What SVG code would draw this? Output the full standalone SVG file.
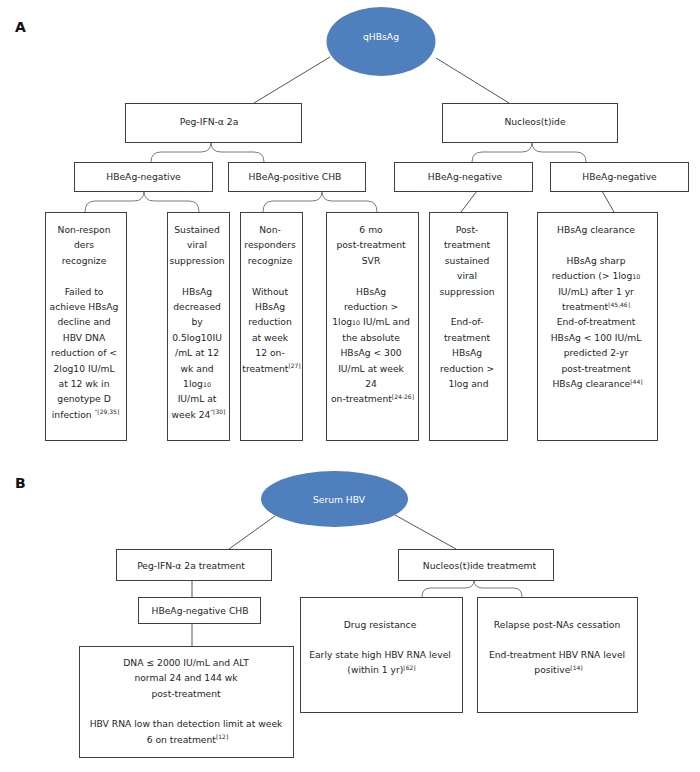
<svg xmlns="http://www.w3.org/2000/svg" width="700" height="772" viewBox="0 0 700 772">
<style>
.bg{fill:#fff}
.box{fill:#fff;stroke:#404040;stroke-width:1}
.ell{fill:#4f7fbd;stroke:none}
.t{font-family:"DejaVu Sans",Verdana,sans-serif;font-size:9.2px;fill:#262626;text-anchor:middle}
.w{fill:#fff}
.lab{font-family:"DejaVu Sans",Verdana,sans-serif;font-size:14px;font-weight:bold;fill:#111}
.sup{font-size:6px}
.sub{font-size:6.3px}
.conn{stroke:#555;stroke-width:1;fill:none}
.brace{stroke:#7a7a7a;stroke-width:1;fill:none}
</style>
<rect class="bg" x="0" y="0" width="700" height="772"/>
<text class="lab" x="15" y="32">A</text>
<text class="lab" x="15" y="488">B</text>

<g id="connectors">
  <line class="conn" x1="330" y1="57" x2="254" y2="103"/>
  <line class="conn" x1="436" y1="58" x2="509" y2="103"/>
  <path class="brace" d="M151,162 Q151,152 161,152 L201,152 Q211,152 211,142 Q211,152 221,152 L254,152 Q264,152 264,162"/>
  <path class="brace" d="M472,162 Q472,152 482,152 L522,152 Q532,152 532,142 Q532,152 542,152 L576,152 Q586,152 586,162"/>
  <path class="brace" d="M85,212 Q85,201 95,201 L134,201 Q144,201 144,191 Q144,201 154,201 L189,201 Q199,201 199,212"/>
  <path class="brace" d="M263,212 Q263,201 273,201 L312,201 Q322,201 322,191 Q322,201 332,201 L367,201 Q377,201 377,212"/>
  <line class="conn" x1="477" y1="191" x2="461" y2="212"/>
  <line class="conn" x1="602" y1="191" x2="614" y2="212"/>
  <line class="conn" x1="275" y1="516" x2="229" y2="549"/>
  <line class="conn" x1="395" y1="515" x2="456" y2="549"/>
  <line class="conn" x1="192" y1="580" x2="192" y2="597"/>
  <line class="conn" x1="192" y1="623" x2="192" y2="646"/>
  <path class="brace" d="M422,597 Q422,588 431,588 L465,588 Q474,588 474,580 Q474,588 483,588 L513,588 Q522,588 522,597"/>
</g>

<g id="qhbsag">
  <ellipse class="ell" cx="381" cy="41.5" rx="54.5" ry="34.5"/>
  <text class="t w" x="381" y="40">qHBsAg</text>
</g>
<g id="peg-a">
  <rect class="box" x="125.5" y="103.5" width="176" height="39"/>
  <text class="t" x="209" y="124.5">Peg-IFN-α 2a</text>
</g>
<g id="nuc-a">
  <rect class="box" x="442.5" y="103.5" width="175" height="39"/>
  <text class="t" x="535" y="124.5">Nucleos(t)ide</text>
</g>
<g id="hbeag-neg-1">
  <rect class="box" x="74.5" y="162.5" width="138" height="29"/>
  <text class="t" x="143.5" y="180">HBeAg-negative</text>
</g>
<g id="hbeag-pos">
  <rect class="box" x="228.5" y="162.5" width="137" height="29"/>
  <text class="t" x="295" y="180">HBeAg-positive CHB</text>
</g>
<g id="hbeag-neg-3">
  <rect class="box" x="394.5" y="162.5" width="138" height="29"/>
  <text class="t" x="465" y="180">HBeAg-negative</text>
</g>
<g id="hbeag-neg-4">
  <rect class="box" x="550.5" y="162.5" width="138" height="29"/>
  <text class="t" x="619.5" y="180">HBeAg-negative</text>
</g>

<g id="box-a1">
  <rect class="box" x="45.5" y="212.5" width="81" height="228"/>
  <text class="t">
    <tspan x="85.5" y="233">Non-respon</tspan>
    <tspan x="85.5" y="248.4">ders</tspan>
    <tspan x="85.5" y="263.8">recognize</tspan>
    <tspan x="85.5" y="294.6">Failed to</tspan>
    <tspan x="85.5" y="310">achieve HBsAg</tspan>
    <tspan x="85.5" y="325.4">decline and</tspan>
    <tspan x="85.5" y="340.8">HBV DNA</tspan>
    <tspan x="85.5" y="356.2">reduction of &lt;</tspan>
    <tspan x="85.5" y="371.6">2log10 IU/mL</tspan>
    <tspan x="85.5" y="387">at 12 wk in</tspan>
    <tspan x="85.5" y="402.4">genotype D</tspan>
    <tspan x="85.5" y="417.8">infection <tspan class="sup" dy="-3.5">"[29,35]</tspan></tspan>
  </text>
</g>
<g id="box-a2">
  <rect class="box" x="167.5" y="212.5" width="62" height="228"/>
  <text class="t">
    <tspan x="198.5" y="233">Sustained</tspan>
    <tspan x="198.5" y="248.4">viral</tspan>
    <tspan x="198.5" y="263.8">suppression</tspan>
    <tspan x="198.5" y="294.6">HBsAg</tspan>
    <tspan x="198.5" y="310">decreased</tspan>
    <tspan x="198.5" y="325.4">by</tspan>
    <tspan x="198.5" y="340.8">0.5log10IU</tspan>
    <tspan x="198.5" y="356.2">/mL at 12</tspan>
    <tspan x="198.5" y="371.6">wk and</tspan>
    <tspan x="198.5" y="387">1log<tspan class="sub">10</tspan></tspan>
    <tspan x="198.5" y="402.4">IU/mL at</tspan>
    <tspan x="198.5" y="417.8">week 24<tspan class="sup" dy="-3.5">"[30]</tspan></tspan>
  </text>
</g>
<g id="box-a3">
  <rect class="box" x="240.5" y="212.5" width="62" height="228"/>
  <text class="t">
    <tspan x="271.5" y="233">Non-</tspan>
    <tspan x="271.5" y="248.4">responders</tspan>
    <tspan x="271.5" y="263.8">recognize</tspan>
    <tspan x="271.5" y="294.6">Without</tspan>
    <tspan x="271.5" y="310">HBsAg</tspan>
    <tspan x="271.5" y="325.4">reduction</tspan>
    <tspan x="271.5" y="340.8">at week</tspan>
    <tspan x="271.5" y="356.2">12 on-</tspan>
    <tspan x="271.5" y="371.6">treatment<tspan class="sup" dy="-3.5">[27]</tspan></tspan>
  </text>
</g>
<g id="box-a4">
  <rect class="box" x="326.5" y="212.5" width="92" height="228"/>
  <text class="t">
    <tspan x="372.5" y="233">6 mo</tspan>
    <tspan x="372.5" y="248.4">post-treatment</tspan>
    <tspan x="372.5" y="263.8">SVR</tspan>
    <tspan x="372.5" y="294.6">HBsAg</tspan>
    <tspan x="372.5" y="310">reduction &gt;</tspan>
    <tspan x="372.5" y="325.4">1log<tspan class="sub">10</tspan> IU/mL and</tspan>
    <tspan x="372.5" y="340.8">the absolute</tspan>
    <tspan x="372.5" y="356.2">HBsAg &lt; 300</tspan>
    <tspan x="372.5" y="371.6">IU/mL at week</tspan>
    <tspan x="372.5" y="387">24</tspan>
    <tspan x="372.5" y="402.4">on-treatment<tspan class="sup" dy="-3.5">[24-26]</tspan></tspan>
  </text>
</g>
<g id="box-a5">
  <rect class="box" x="429.5" y="212.5" width="78" height="228"/>
  <text class="t">
    <tspan x="468.5" y="233">Post-</tspan>
    <tspan x="468.5" y="248.4">treatment</tspan>
    <tspan x="468.5" y="263.8">sustained</tspan>
    <tspan x="468.5" y="279.2">viral</tspan>
    <tspan x="468.5" y="294.6">suppression</tspan>
    <tspan x="468.5" y="325.4">End-of-</tspan>
    <tspan x="468.5" y="340.8">treatment</tspan>
    <tspan x="468.5" y="356.2">HBsAg</tspan>
    <tspan x="468.5" y="371.6">reduction &gt;</tspan>
    <tspan x="468.5" y="387">1log and</tspan>
  </text>
</g>
<g id="box-a6">
  <rect class="box" x="537.5" y="212.5" width="120" height="228"/>
  <text class="t">
    <tspan x="597.5" y="233">HBsAg clearance</tspan>
    <tspan x="597.5" y="263.8">HBsAg sharp</tspan>
    <tspan x="597.5" y="279.2">reduction (&gt; 1log<tspan class="sub">10</tspan></tspan>
    <tspan x="597.5" y="294.6">IU/mL) after 1 yr</tspan>
    <tspan x="597.5" y="310">treatment<tspan class="sup" dy="-3.5">[45,46]</tspan></tspan>
    <tspan x="597.5" y="325.4">End-of-treatment</tspan>
    <tspan x="597.5" y="340.8">HBsAg &lt; 100 IU/mL</tspan>
    <tspan x="597.5" y="356.2">predicted 2-yr</tspan>
    <tspan x="597.5" y="371.6">post-treatment</tspan>
    <tspan x="597.5" y="387">HBsAg clearance<tspan class="sup" dy="-3.5">[44]</tspan></tspan>
  </text>
</g>

<g id="serum-hbv">
  <ellipse class="ell" cx="334.5" cy="499" rx="73.5" ry="28"/>
  <text class="t w" x="339" y="503">Serum HBV</text>
</g>
<g id="peg-b">
  <rect class="box" x="116.5" y="549.5" width="155" height="31"/>
  <text class="t" x="191" y="569">Peg-IFN-α 2a treatment</text>
</g>
<g id="nuc-b">
  <rect class="box" x="398.5" y="549.5" width="155" height="31"/>
  <text class="t" x="479.5" y="569">Nucleos(t)ide treatmemt</text>
</g>
<g id="hbeag-neg-chb">
  <rect class="box" x="138.5" y="597.5" width="122" height="26"/>
  <text class="t" x="200" y="613.5">HBeAg-negative CHB</text>
</g>
<g id="box-dna">
  <rect class="box" x="79.5" y="646.5" width="214" height="111"/>
  <text class="t">
    <tspan x="187.5" y="666">DNA ≤ 2000 IU/mL and ALT</tspan>
    <tspan x="187.5" y="681.4">normal 24 and 144 wk</tspan>
    <tspan x="187.5" y="696.8">post-treatment</tspan>
    <tspan x="187.5" y="727.4">HBV RNA low than detection limit at week</tspan>
    <tspan x="187.5" y="742.8">6 on treatment<tspan class="sup" dy="-3.5">[12]</tspan></tspan>
  </text>
</g>
<g id="box-drug">
  <rect class="box" x="300.5" y="597.5" width="162" height="115"/>
  <text class="t">
    <tspan x="381.5" y="627.5">Drug resistance</tspan>
    <tspan x="381.5" y="658">Early state high HBV RNA level</tspan>
    <tspan x="381.5" y="673.4">(within 1 yr)<tspan class="sup" dy="-3.5">[62]</tspan></tspan>
  </text>
</g>
<g id="box-relapse">
  <rect class="box" x="477.5" y="597.5" width="160" height="115"/>
  <text class="t">
    <tspan x="558.5" y="627.5">Relapse post-NAs cessation</tspan>
    <tspan x="558.5" y="658">End-treatment HBV RNA level</tspan>
    <tspan x="558.5" y="673.4">positive<tspan class="sup" dy="-3.5">[14]</tspan></tspan>
  </text>
</g>
</svg>
